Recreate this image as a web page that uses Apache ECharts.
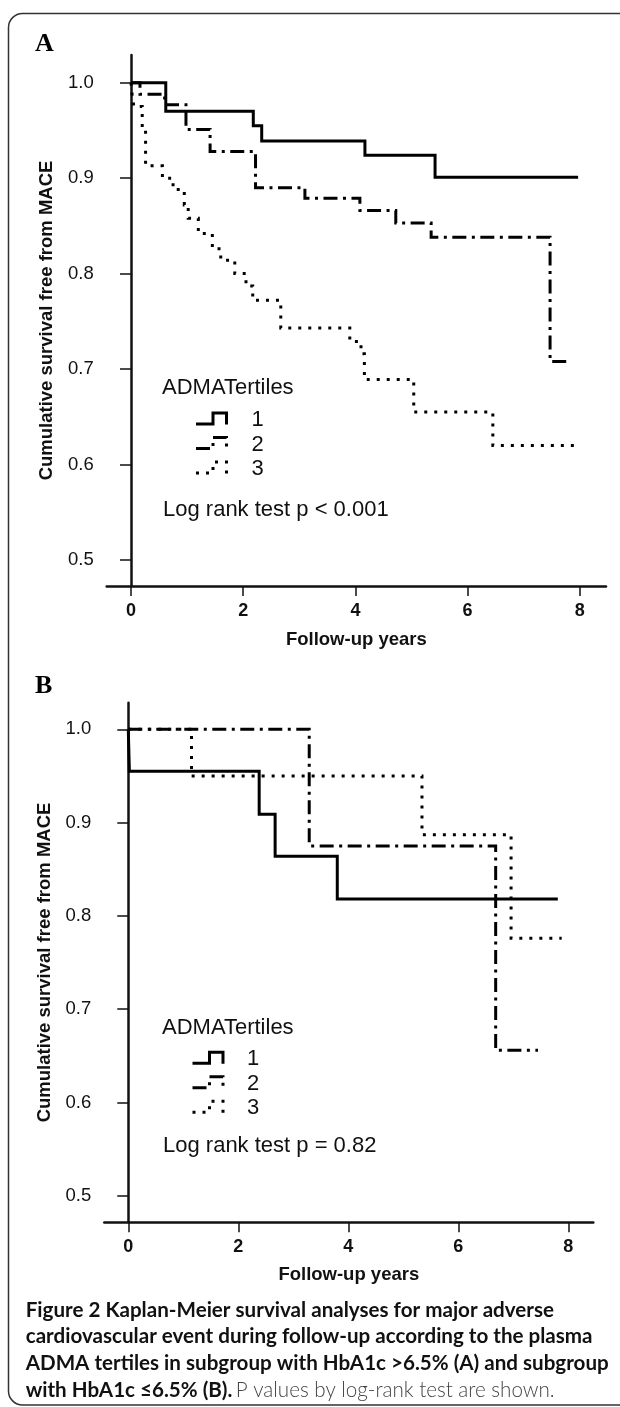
<!DOCTYPE html>
<html><head><meta charset="utf-8">
<script src="https://cdn.jsdelivr.net/npm/echarts@6/dist/echarts.min.js"></script>
<style>html,body{margin:0;padding:0;background:#fff}#c{width:620px;height:1407px}</style>
</head><body><div id="c"></div>
<script>
// ---- tick labels ----
const xTickValues = [0, 2, 4, 6, 8];
const yTickValues = [0.5, 0.6, 0.7, 0.8, 0.9, 1.0];
const tertileNames = ['1', '2', '3'];

// ---- Panel A: HbA1c > 6.5% : [follow-up years, cumulative survival] ----
const aTertile1 = [[0,1.0],[0.62,0.970],[2.18,0.955],[2.33,0.939],[4.17,0.924],[5.42,0.901],[7.97,0.901]];
const aTertile2 = [[0,1.0],[0.16,0.988],[0.6,0.977],[0.98,0.951],[1.41,0.928],[2.22,0.890],[3.1,0.879],[4.08,0.866],[4.72,0.853],[5.35,0.838],[7.47,0.708],[7.83,0.708]];
const aTertile3 = [[0,1.0],[0.02,0.988],[0.05,0.975],[0.2,0.950],[0.26,0.913],[0.56,0.900],[0.75,0.888],[0.95,0.872],[1.02,0.858],[1.2,0.842],[1.45,0.826],[1.6,0.814],[1.85,0.800],[2.05,0.787],[2.17,0.772],[2.67,0.743],[3.9,0.729],[4.1,0.716],[4.16,0.689],[5.04,0.655],[6.45,0.620],[7.9,0.620]];

// ---- Panel B: HbA1c <= 6.5% ----
const bTertile1 = [[0,1.0],[0.02,0.955],[2.38,0.909],[2.67,0.864],[3.8,0.818],[7.81,0.818]];
const bTertile2 = [[0,1.0],[3.29,0.875],[6.68,0.656],[7.45,0.656]];
const bTertile3 = [[0,1.0],[1.15,0.950],[5.34,0.887],[6.96,0.776],[7.88,0.776]];

const pTextA = 'Log rank test p < 0.001';
const pTextB = 'Log rank test p = 0.82';

const SANS = "'Liberation Sans', Arial, sans-serif";
const INK = '#111';
const styleSolid = {type: 'solid', width: 3};
const styleDashDot = {type: [14, 5.5, 3, 5.5], width: 3};
const styleDot = {type: [3, 7], width: 3};
const lineStyles = [styleSolid, styleDashDot, styleDot];

function kmSeries(name, data, idx, st) {
  return {
    name: name, type: 'line', step: 'end', data: data,
    xAxisIndex: idx, yAxisIndex: idx, showSymbol: false, symbol: 'none',
    silent: true, animation: false,
    lineStyle: {color: '#000', width: st.width, type: st.type, cap: 'butt', join: 'miter'}
  };
}

function xAx(idx, min, max, gap) {
  return {
    gridIndex: idx, type: 'value', min: min, max: max,
    name: 'Follow-up years', nameLocation: 'middle', nameGap: gap,
    nameTextStyle: {fontFamily: SANS, fontSize: 18.5, fontWeight: 'bold', color: INK, verticalAlign: 'middle'},
    axisLine: {lineStyle: {color: INK, width: 2.5}},
    axisTick: {customValues: xTickValues, length: 10, lineStyle: {color: INK, width: 1.5}},
    axisLabel: {customValues: xTickValues, margin: 16, fontFamily: SANS, fontSize: 18, fontWeight: 'bold', color: INK},
    splitLine: {show: false}
  };
}
function yAx(idx, min, max, gap) {
  return {
    gridIndex: idx, type: 'value', min: min, max: max,
    name: 'Cumulative survival free from MACE', nameLocation: 'middle', nameGap: gap, nameRotate: 90,
    nameTextStyle: {fontFamily: SANS, fontSize: 18.5, fontWeight: 'bold', color: INK, verticalAlign: 'middle', align: 'center'},
    axisLine: {lineStyle: {color: INK, width: 2.5}},
    axisTick: {customValues: yTickValues, length: 11, lineStyle: {color: INK, width: 1.5}},
    axisLabel: {customValues: yTickValues, margin: 13, fontFamily: SANS, fontSize: 18.5, color: INK,
      formatter: v => Number(v).toFixed(1)},
    splitLine: {show: false}
  };
}

function legendGraphics(x0, yBottom, titleY, numX, pText, pY) {
  const g = [];
  g.push({type: 'text', x: 162, y: titleY, style: {text: 'ADMATertiles', font: '22px ' + SANS, fill: INK, textVerticalAlign: 'middle'}});
  for (let i = 0; i < 3; i++) {
    const yb = yBottom + i * 24.5;
    const st = lineStyles[i];
    g.push({type: 'polyline', shape: {points: [[x0, yb], [x0 + 17, yb], [x0 + 17, yb - 11], [x0 + 30.5, yb - 11], [x0 + 30.5, yb + 0.5]]},
      style: {stroke: '#000', lineWidth: 3, fill: null, lineDash: st.type === 'solid' ? null : st.type, lineCap: 'butt', lineJoin: 'miter'}});
    g.push({type: 'text', x: numX, y: yb - 4, style: {text: tertileNames[i], font: '22px ' + SANS, fill: INK, textAlign: 'center', textVerticalAlign: 'middle'}});
  }
  g.push({type: 'text', x: 163, y: pY, style: {text: pText, font: '22px ' + SANS, fill: INK, textVerticalAlign: 'middle'}});
  return g;
}

const CAP = "Lato, 'Open Sans', sans-serif";
const captionLines = [
  'Figure 2 Kaplan-Meier survival analyses for major adverse',
  'cardiovascular event during follow-up according to the plasma',
  'ADMA tertiles in subgroup with HbA1c >6.5% (A) and subgroup'
];

const graphics = [
  {type: 'rect', shape: {x: 8.5, y: 13.5, width: 700, height: 1391.5, r: 14}, style: {fill: null, stroke: '#333', lineWidth: 1.5}, z: 0},
  {type: 'text', x: 35, y: 44, style: {text: 'A', font: "bold 26px 'Liberation Serif', 'Times New Roman', serif", fill: '#000', textVerticalAlign: 'middle'}},
  {type: 'text', x: 35, y: 686, style: {text: 'B', font: "bold 26px 'Liberation Serif', 'Times New Roman', serif", fill: '#000', textVerticalAlign: 'middle'}}
].concat(
  legendGraphics(196, 424, 388, 257.5, pTextA, 510),
  legendGraphics(192.5, 1063.3, 1028.3, 253, pTextB, 1146)
);
captionLines.forEach((t, i) => {
  graphics.push({type: 'text', x: 25.7, y: 1310 + i * 26.7, style: {text: t, font: 'bold 20.6px ' + CAP, fill: '#111', textVerticalAlign: 'middle'}});
});
graphics.push({type: 'text', x: 25.7, y: 1390, style: {
  text: '{b|with HbA1c \u22646.5% (B).} {r|P values by log-rank test are shown.}',
  textVerticalAlign: 'middle',
  rich: {b: {font: 'bold 20.6px ' + CAP, fill: '#111'}, r: {font: '300 20.6px ' + CAP, fill: '#444'}}
}});

const chart = echarts.init(document.getElementById('c'), null, {renderer: 'canvas'});
chart.setOption({
  backgroundColor: '#fff',
  animation: false,
  grid: [
    {left: 106.7, right: 14, top: 55, bottom: 821, containLabel: false},
    {left: 104.3, right: 26.7, top: 702.7, bottom: 184.7, containLabel: false}
  ],
  xAxis: [xAx(0, -0.433, 8.467, 54), xAx(1, -0.436, 8.455, 52.7)],
  yAxis: [yAx(0, 0.4728, 1.029, 59.7), yAx(1, 0.4715, 1.0285, 57.3)],
  series: [
    kmSeries('1', aTertile1, 0, styleSolid),
    kmSeries('2', aTertile2, 0, styleDashDot),
    kmSeries('3', aTertile3, 0, styleDot),
    kmSeries('1', bTertile1, 1, styleSolid),
    kmSeries('2', bTertile2, 1, styleDashDot),
    kmSeries('3', bTertile3, 1, styleDot)
  ],
  graphic: graphics
});
</script></body></html>
